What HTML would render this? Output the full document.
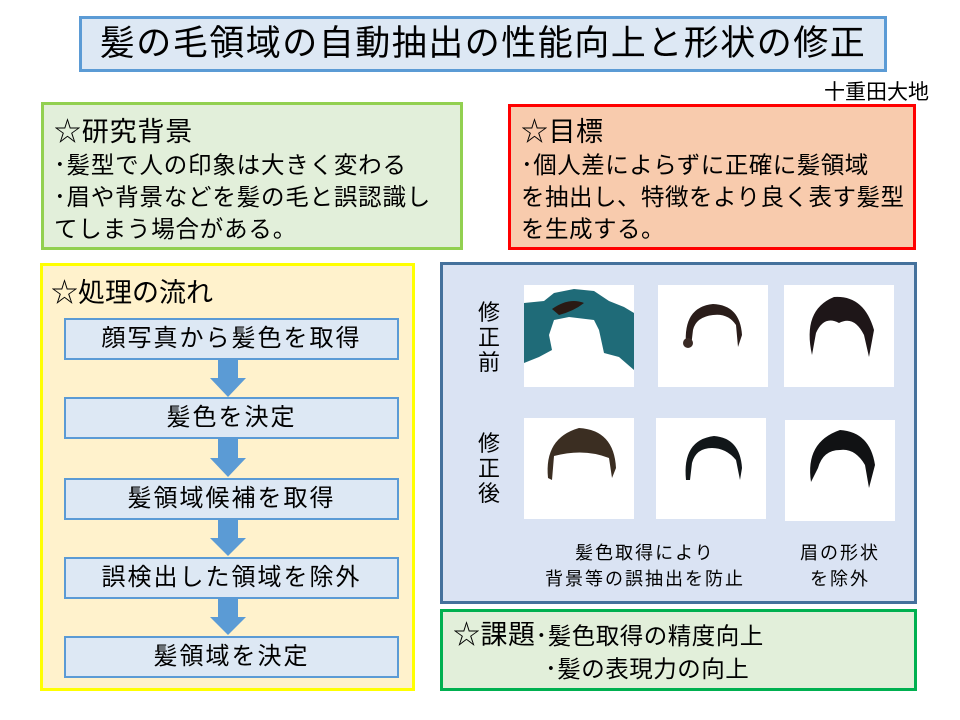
<!DOCTYPE html>
<html><head><meta charset="utf-8"><style>
body{margin:0;width:960px;height:720px;background:#fff;position:relative;overflow:hidden;font-family:"Liberation Sans","Noto Sans CJK JP",sans-serif;color:#000}
.a{position:absolute;box-sizing:border-box}
.fb{position:absolute;left:64px;width:335px;height:42px;background:#dde8f4;border:2px solid #5b9bd5;box-sizing:border-box;text-align:center;font-size:24px;line-height:38px;letter-spacing:2px}
.ar{position:absolute;left:210px}
.img{position:absolute;background:#fff}
</style></head><body>
<div class="a" style="left:79px;top:16px;width:808px;height:56px;background:#dde8f4;border:3px solid #5b9bd5;text-align:center;font-size:35px;line-height:50px;letter-spacing:1.5px">髪の毛領域の自動抽出の性能向上と形状の修正</div>
<div class="a" style="left:824px;top:76px;font-size:21px">十重田大地</div>

<div class="a" style="left:41px;top:102px;width:422px;height:148px;background:#e2efda;border:3px solid #92d050;padding:10px 0 0 10px;font-size:23.5px;line-height:32px;letter-spacing:0.8px">
<div style="font-size:27px;line-height:34px">☆研究背景</div>
<div>･髪型で人の印象は大きく変わる</div>
<div>･眉や背景などを髪の毛と誤認識し<br>てしまう場合がある。</div>
</div>

<div class="a" style="left:508px;top:104px;width:408px;height:146px;background:#f8cbad;border:3px solid #ff0000;padding:8px 0 0 10px;font-size:23.5px;line-height:32px;letter-spacing:0.5px">
<div style="font-size:27px;line-height:34px">☆目標</div>
<div>･個人差によらずに正確に髪領域<br>を抽出し、特徴をより良く表す髪型<br>を生成する。</div>
</div>

<div class="a" style="left:40px;top:263px;width:375px;height:428px;background:#fff2cc;border:3px solid #ffff00;padding:8px 0 0 8px;font-size:27px;line-height:38px">☆処理の流れ</div>
<div class="fb" style="top:318px">顔写真から髪色を取得</div>
<div class="fb" style="top:397px">髪色を決定</div>
<div class="fb" style="top:478px">髪領域候補を取得</div>
<div class="fb" style="top:557px">誤検出した領域を除外</div>
<div class="fb" style="top:636px">髪領域を決定</div>
<svg class="ar" style="top:360px" width="36" height="38"><path d="M8 0H28V18H36L18 37L0 18H8Z" fill="#5b9bd5"/></svg>
<svg class="ar" style="top:439px" width="36" height="39"><path d="M8 0H28V19H36L18 38L0 19H8Z" fill="#5b9bd5"/></svg>
<svg class="ar" style="top:520px" width="36" height="37"><path d="M8 0H28V18H36L18 36L0 18H8Z" fill="#5b9bd5"/></svg>
<svg class="ar" style="top:599px" width="36" height="37"><path d="M8 0H28V18H36L18 36L0 18H8Z" fill="#5b9bd5"/></svg>

<div class="a" style="left:440px;top:262px;width:477px;height:342px;background:#dae3f3;border:3px solid #44719c"></div>
<div class="a" style="left:476px;top:300px;width:26px;font-size:22px;line-height:25px;text-align:center">修<br>正<br>前</div>
<div class="a" style="left:476px;top:431px;width:26px;font-size:22px;line-height:25px;text-align:center">修<br>正<br>後</div>

<div class="img" style="left:524px;top:285px;width:110px;height:102px;overflow:hidden">
<svg width="110" height="102"><path d="M0 18 L20 16 L30 8 L50 4 L70 6 L85 16 L100 22 L110 28 L110 85 L95 72 L80 68 L75 45 L70 35 L45 32 L30 35 L25 50 L28 65 L15 72 L0 78Z" fill="#1f6b78"/><path d="M28 24 Q45 12 60 18 Q50 26 35 30Z" fill="#2a1a14"/></svg></div>
<div class="img" style="left:658px;top:285px;width:110px;height:102px">
<svg width="110" height="102"><path d="M28 60 Q25 22 55 19 Q82 20 84 50 L80 62 L78 40 Q70 28 55 30 Q38 32 35 45 L33 62Z" fill="#2a1d1a"/><circle cx="30" cy="58" r="5" fill="#3a2a25"/></svg></div>
<div class="img" style="left:784px;top:285px;width:110px;height:102px">
<svg width="110" height="102"><path d="M28 70 Q18 25 50 12 Q80 10 90 45 L85 72 L80 50 Q70 30 55 38 Q40 30 32 48Z" fill="#1e1618"/></svg></div>
<div class="img" style="left:524px;top:418px;width:110px;height:101px">
<svg width="110" height="101"><path d="M24 60 Q20 20 55 10 Q90 12 92 50 L88 60 L85 40 Q60 30 30 38 L28 62Z" fill="#3b2e22"/></svg></div>
<div class="img" style="left:656px;top:418px;width:110px;height:101px">
<svg width="110" height="101"><path d="M30 62 Q26 22 58 18 Q84 20 86 50 L84 62 L80 42 Q70 30 56 30 Q40 30 36 45 L34 62Z" fill="#111619"/></svg></div>
<div class="img" style="left:785px;top:420px;width:110px;height:101px">
<svg width="110" height="101"><path d="M26 62 Q20 22 55 10 Q85 12 90 45 L84 68 L80 45 Q70 28 55 30 Q38 30 33 48Z" fill="#111214"/></svg></div>

<div class="a" style="left:525px;top:540px;width:240px;text-align:center;font-size:18px;line-height:26px;letter-spacing:2px">髪色取得により<br>背景等の誤抽出を防止</div>
<div class="a" style="left:775px;top:540px;width:130px;text-align:center;font-size:18px;line-height:26px;letter-spacing:2px">眉の形状<br>を除外</div>

<div class="a" style="left:440px;top:609px;width:477px;height:82px;background:#e2efda;border:3px solid #00b050;padding:7px 0 0 10px;font-size:23.5px;line-height:33px;letter-spacing:0.5px">
<div><span style="font-size:27px">☆課題</span>･髪色取得の精度向上</div>
<div style="padding-left:92px">･髪の表現力の向上</div>
</div>
</body></html>
